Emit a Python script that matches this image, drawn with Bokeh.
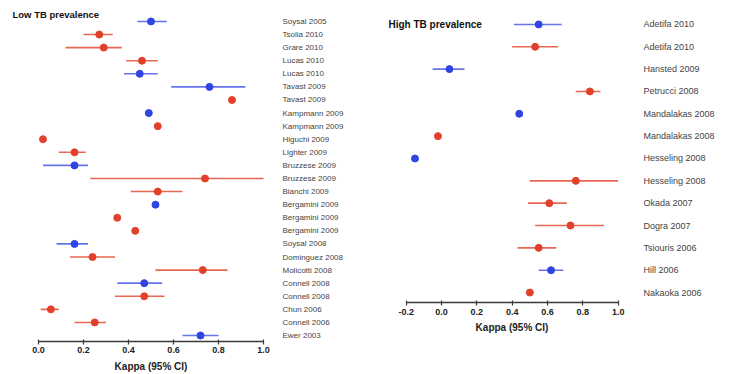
import math
from bokeh.plotting import figure
from bokeh.models import (Range1d, FixedTicker, PrintfTickFormatter, Label, ColumnDataSource)
from bokeh.layouts import row
from bokeh.embed import file_html
from bokeh.resources import INLINE

NA = float("nan")

# ---------------- data: low TB prevalence ----------------
low_labels = ["Soysal 2005", "Tsolia 2010", "Grare 2010", "Lucas 2010", "Lucas 2010",
              "Tavast 2009", "Tavast 2009", "Kampmann 2009", "Kampmann 2009",
              "Higuchi 2009", "Lighter 2009", "Bruzzese 2009", "Bruzzese 2009",
              "Bianchi 2009", "Bergamini 2009", "Bergamini 2009", "Bergamini 2009",
              "Soysal 2008", "Dominguez 2008", "Molicotti 2008", "Connell 2008",
              "Connell 2008", "Chun 2006", "Connell 2006", "Ewer 2003"]
low_kappa = [0.50, 0.27, 0.29, 0.46, 0.45, 0.76, 0.86, 0.49, 0.53, 0.02, 0.16, 0.16,
             0.74, 0.53, 0.52, 0.35, 0.43, 0.16, 0.24, 0.73, 0.47, 0.47, 0.055, 0.25, 0.72]
low_lo = [0.44, 0.20, 0.12, 0.39, 0.38, 0.59, NA, NA, NA, NA, 0.09, 0.02, 0.23, 0.41,
          NA, NA, NA, 0.08, 0.14, 0.52, 0.35, 0.34, 0.01, 0.16, 0.64]
low_hi = [0.57, 0.33, 0.37, 0.53, 0.53, 0.92, NA, NA, NA, NA, 0.21, 0.22, 1.00, 0.64,
          NA, NA, NA, 0.22, 0.34, 0.84, 0.55, 0.56, 0.09, 0.30, 0.80]
low_group = ["blue", "red", "red", "red", "blue", "blue", "red", "blue", "red", "red",
             "red", "blue", "red", "red", "blue", "red", "red", "blue", "red", "red",
             "blue", "red", "red", "red", "blue"]

# ---------------- data: high TB prevalence ----------------
high_labels = ["Adetifa 2010", "Adetifa 2010", "Hansted 2009", "Petrucci 2008",
               "Mandalakas 2008", "Mandalakas 2008", "Hesseling 2008", "Hesseling 2008",
               "Okada 2007", "Dogra 2007", "Tsiouris 2006", "Hill 2006", "Nakaoka 2006"]
high_kappa = [0.55, 0.53, 0.045, 0.84, 0.44, -0.02, -0.15, 0.76, 0.61, 0.73, 0.55, 0.62, 0.50]
high_lo = [0.41, 0.40, -0.05, 0.76, NA, NA, NA, 0.50, 0.49, 0.53, 0.43, 0.55, NA]
high_hi = [0.68, 0.66, 0.13, 0.90, NA, NA, NA, 1.00, 0.71, 0.92, 0.65, 0.69, NA]
high_group = ["blue", "red", "blue", "red", "blue", "red", "blue", "red", "red", "red",
              "red", "blue", "red"]

low_ticks = [0.0, 0.2, 0.4, 0.6, 0.8, 1.0]
high_ticks = [-0.2, 0.0, 0.2, 0.4, 0.6, 0.8, 1.0]

POINT = {"blue": "#2f45e3", "red": "#e2402a"}
BAR = {"blue": "#5565e8", "red": "#e4563f"}

FONT = "Liberation Sans"


def panel(labels, kappa, lo, hi, group, ticks, width, height, x_range, y_range,
          mb_left, mb_right, lab_size, lab_standoff, tick_standoff, title_standoff):
    n = len(labels)
    src = ColumnDataSource(dict(
        y=list(range(n)), k=kappa, lo=lo, hi=hi,
        pc=[POINT[g] for g in group], bc=[BAR[g] for g in group]))
    p = figure(width=width, height=height, x_range=x_range, y_range=y_range,
               y_axis_location="right", output_backend="svg", toolbar_location=None,
               min_border_left=mb_left, min_border_right=mb_right,
               min_border_top=5, min_border_bottom=32)
    p.outline_line_color = None
    p.xgrid.visible = False
    p.ygrid.visible = False
    p.background_fill_color = "white"
    p.border_fill_color = "white"

    p.segment(x0="lo", y0="y", x1="hi", y1="y", source=src, line_color="bc",
              line_width=1.6, line_alpha=0.9)
    p.scatter(x="k", y="y", source=src, size=7, fill_color="pc", line_color="pc")

    xa = p.xaxis[0]
    xa.ticker = FixedTicker(ticks=ticks)
    xa.formatter = PrintfTickFormatter(format="%.1f")
    xa.bounds = (ticks[0], ticks[-1])
    xa.minor_tick_line_color = None
    xa.major_tick_in = 2
    xa.major_tick_out = 3
    xa.axis_line_color = "#3a3a3a"
    xa.axis_line_width = 1.5
    xa.major_tick_line_color = "#3a3a3a"
    xa.major_tick_line_width = 1.2
    xa.major_label_text_font = FONT
    xa.major_label_text_font_style = "bold"
    xa.major_label_text_font_size = "9px"
    xa.major_label_text_color = "#222222"
    xa.major_label_standoff = tick_standoff
    xa.axis_label = "Kappa (95% CI)"
    xa.axis_label_text_font = FONT
    xa.axis_label_text_font_style = "bold"
    xa.axis_label_text_font_size = "10px"
    xa.axis_label_text_color = "#222222"
    xa.axis_label_standoff = title_standoff

    ya = p.yaxis[0]
    ya.ticker = FixedTicker(ticks=list(range(n)))
    ya.major_label_overrides = {i: lab for i, lab in enumerate(labels)}
    ya.axis_line_color = None
    ya.major_tick_line_color = None
    ya.minor_tick_line_color = None
    ya.major_label_text_font = FONT
    ya.major_label_text_font_size = lab_size
    ya.major_label_text_color = "#444444"
    ya.major_label_standoff = lab_standoff
    return p


# left panel: frame 10..291 px; x=0 at 38 px, 225 px per unit; rows from 21 px, 13.125 apart
p1 = panel(low_labels, low_kappa, low_lo, low_hi, low_group, low_ticks, 358, 374,
           Range1d((10 - 38) / 225, (291 - 38) / 225),
           Range1d((342 - 21) / 13.125, -(21 - 5) / 13.125),
           10, 67, "8px", -15, 2, 5)
p1.add_layout(Label(x=(12 - 38) / 225, y=(14 - 21) / 13.125, text="Low TB prevalence",
                    text_font=FONT, text_font_style="bold", text_font_size="9.5px",
                    text_color="#111111", text_baseline="middle", text_align="left"))

# right panel: frame 383..640 px (page); x=0 at 441 px, 176.67 px per unit; rows from 24 px, 22.42 apart
p2 = panel(high_labels, high_kappa, high_lo, high_hi, high_group, high_ticks, 372, 335,
           Range1d((383 - 441) / 176.67, (640 - 441) / 176.67),
           Range1d((303 - 24) / 22.417, -(24 - 5) / 22.417),
           25, 90, "9px", -3, 3, 4)
p2.add_layout(Label(x=(388 - 441) / 176.67, y=0, text="High TB prevalence",
                    text_font=FONT, text_font_style="bold", text_font_size="10px",
                    text_color="#111111", text_baseline="middle", text_align="left"))

layout = row(p1, p2)
open("out.html", "w").write(file_html(layout, INLINE))
